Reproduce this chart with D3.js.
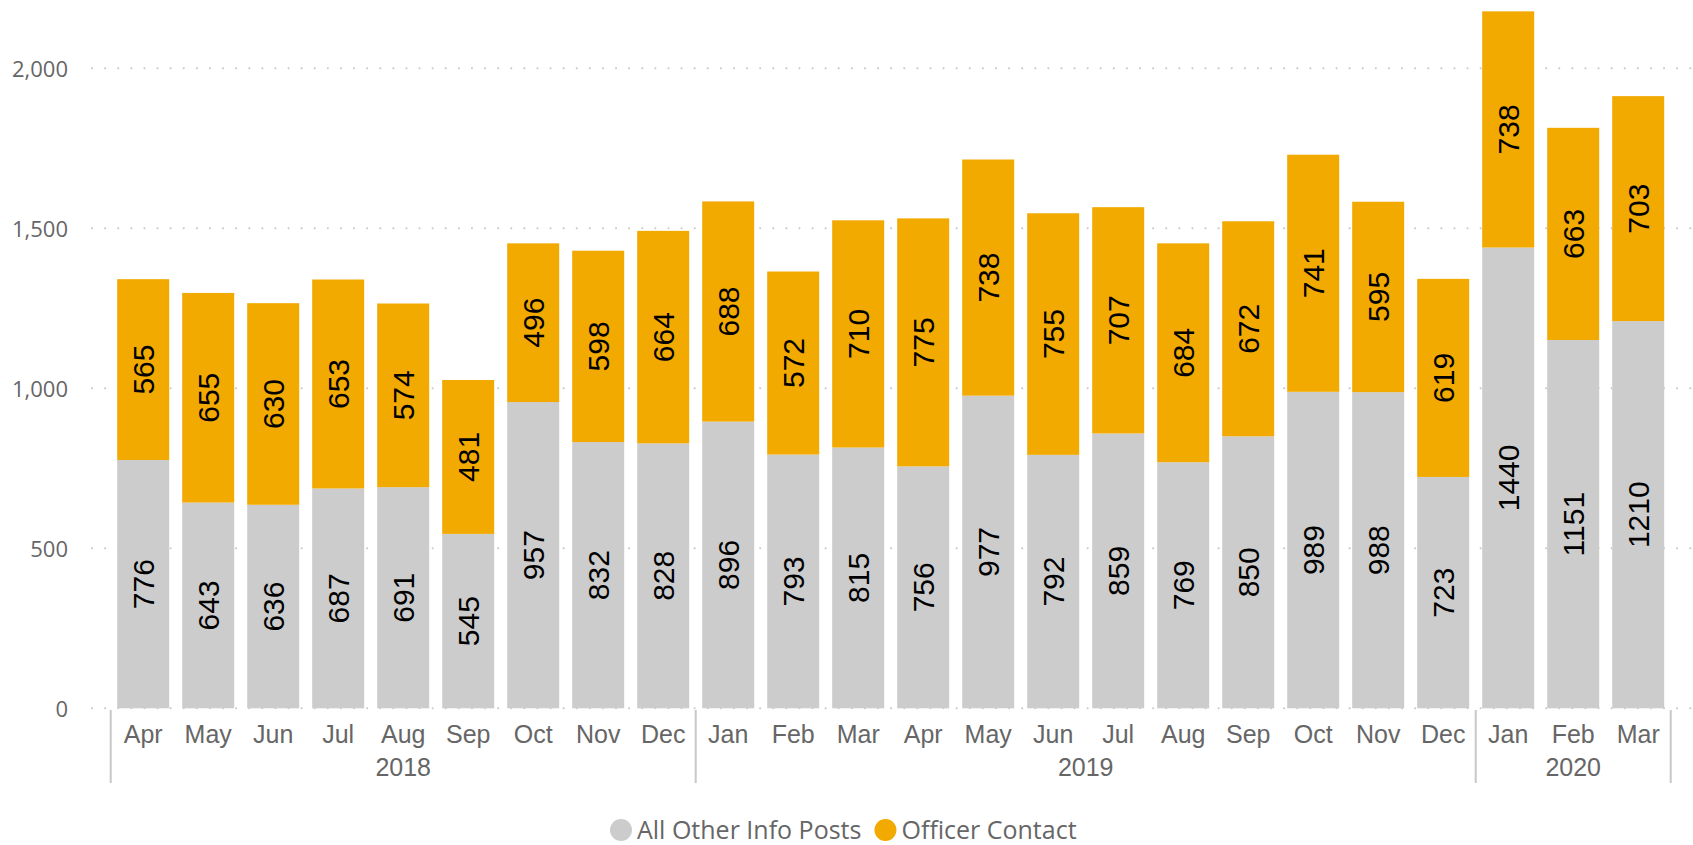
<!DOCTYPE html>
<html>
<head>
<meta charset="utf-8">
<script src="https://cdn.jsdelivr.net/npm/d3@7"></script>
<style>
  html, body { margin: 0; padding: 0; background: #fff; }
  svg { display: block; }
</style>
</head>
<body>
<svg id="chart" width="1693" height="845"></svg>
<script>
const months = ["Apr","May","Jun","Jul","Aug","Sep","Oct","Nov","Dec",
  "Jan","Feb","Mar","Apr","May","Jun","Jul","Aug","Sep","Oct","Nov","Dec",
  "Jan","Feb","Mar"];
const years = ["2018","2018","2018","2018","2018","2018","2018","2018","2018",
  "2019","2019","2019","2019","2019","2019","2019","2019","2019","2019","2019","2019",
  "2020","2020","2020"];
const otherPosts = [776,643,636,687,691,545,957,832,828,896,793,815,756,977,792,859,769,850,989,988,723,1440,1151,1210];
const officerContact = [565,655,630,653,574,481,496,598,664,688,572,710,775,738,755,707,684,672,741,595,619,738,663,703];
const yTicks = [0,500,1000,1500,2000];
const seriesNames = ["All Other Info Posts","Officer Contact"];
const colors = ["#CCCCCC","#F2A900"];

const svg = d3.select("#chart");
const keys = months.map((m,i) => i);
const x = d3.scaleBand().domain(keys).range([110.7, 1670.7]).paddingInner(0.2).paddingOuter(0.1);
const y = d3.scaleLinear().domain([0, 2000]).range([708.3, 68.3]);

// gridlines
const grid = svg.append("g");
yTicks.forEach(t => {
  grid.append("line")
    .attr("x1", 92).attr("x2", 1693)
    .attr("y1", y(t)).attr("y2", y(t))
    .attr("stroke", "#c8c8c8").attr("stroke-width", 2)
    .attr("stroke-linecap", "round")
    .attr("stroke-dasharray", "0.1,13");
});

// y axis labels
const yAxis = d3.axisLeft(y).tickValues(yTicks).tickFormat(d3.format(",")).tickSize(0).tickPadding(0);
const ya = svg.append("g").attr("transform", "translate(68,0)").call(yAxis);
ya.select(".domain").remove();
ya.selectAll("text").attr("font-family", "'Open Sans', 'Segoe UI', sans-serif")
  .attr("font-size", 22).attr("fill", "#666666").attr("dy", "0.35em");

// stacked data
const data = keys.map(i => ({i, a: otherPosts[i], b: officerContact[i]}));
const stack = d3.stack().keys(["a","b"])(data);

const layers = svg.append("g").selectAll("g").data(stack).join("g").attr("fill", (d,k) => colors[k]);
layers.selectAll("rect").data(d => d).join("rect")
  .attr("x", d => x(d.data.i))
  .attr("width", x.bandwidth())
  .attr("y", d => y(d[1]))
  .attr("height", d => y(d[0]) - y(d[1]));

// value labels
layers.each(function(layer) {
  d3.select(this).selectAll("text").data(layer).join("text")
    .attr("transform", d => `translate(${x(d.data.i) + x.bandwidth()/2},${(y(d[0]) + y(d[1]))/2}) rotate(-90)`)
    .attr("text-anchor", "middle")
    .attr("dy", "0.36em")
    .attr("font-family", "'Liberation Sans', Arial, sans-serif")
    .attr("font-size", 30)
    .attr("fill", "#000")
    .text(d => d[1] - d[0]);
});

// x axis month labels
const xAxis = d3.axisBottom(x).tickFormat(i => months[i]).tickSize(0).tickPadding(0);
const xa = svg.append("g").attr("transform", "translate(0,743)").call(xAxis);
xa.select(".domain").remove();
xa.selectAll("text").attr("dy", 0).attr("y", 0)
  .attr("font-family", "'Liberation Sans', Arial, sans-serif")
  .attr("font-size", 25).attr("fill", "#666666");

// year groups
const yearGroups = d3.groups(keys, i => years[i]);
const sepX = [x.range()[0]];
yearGroups.forEach(([yr, idx]) => {
  const s0 = idx[0] === 0 ? x.range()[0] : x(idx[0]) - x.step()*x.paddingInner()/2;
  const e0 = idx[idx.length-1] === keys.length-1 ? x.range()[1]
    : x(idx[idx.length-1]) + x.bandwidth() + x.step()*x.paddingInner()/2;
  sepX.push(e0);
  svg.append("text")
    .attr("x", (s0 + e0)/2).attr("y", 776)
    .attr("text-anchor", "middle")
    .attr("font-family", "'Liberation Sans', Arial, sans-serif")
    .attr("font-size", 25).attr("fill", "#666666")
    .text(yr);
});
sepX.forEach(sx => {
  svg.append("line").attr("x1", sx).attr("x2", sx).attr("y1", 710).attr("y2", 783)
    .attr("stroke", "#c8c8c8").attr("stroke-width", 2);
});

// legend
const legend = svg.append("g").attr("font-family", "'Open Sans', 'Segoe UI', sans-serif")
  .attr("font-size", 25).attr("fill", "#666666");
let lx = 610;
seriesNames.forEach((name, k) => {
  legend.append("circle").attr("cx", lx + 11).attr("cy", 830).attr("r", 11).attr("fill", colors[k]);
  const t = legend.append("text").attr("x", lx + 27).attr("y", 838.5).text(name);
  lx += 27 + t.node().getComputedTextLength() + 13;
});
</script>
</body>
</html>
